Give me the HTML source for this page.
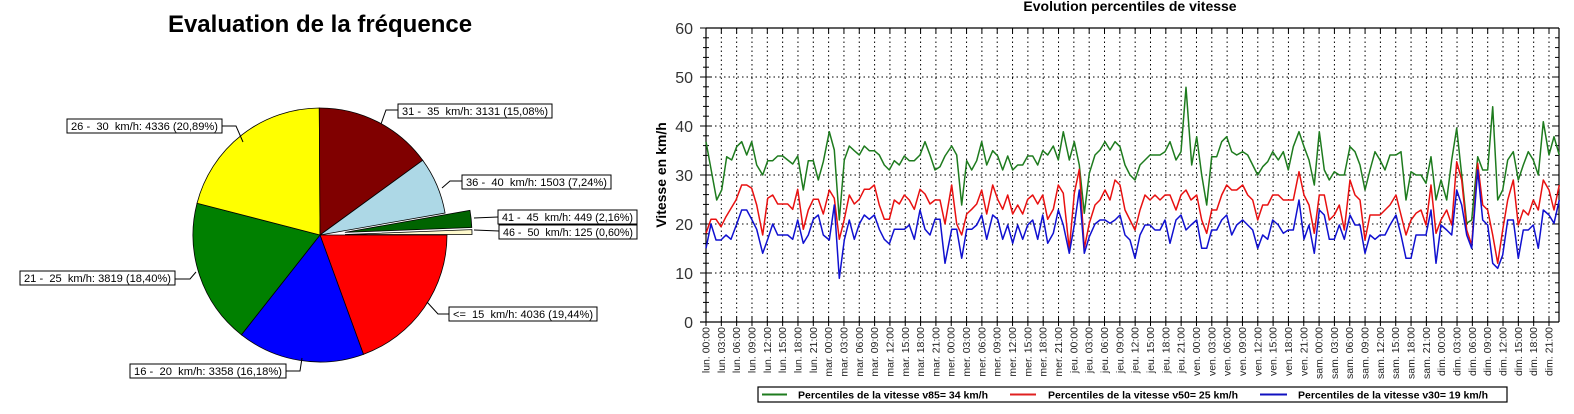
<!DOCTYPE html>
<html><head><meta charset="utf-8"><style>
html,body{margin:0;padding:0;background:#fff;width:1574px;height:414px;overflow:hidden}
svg{display:block}
text{font-family:"Liberation Sans",Arial,sans-serif;white-space:pre}
</style></head><body>
<svg id="s" width="1574" height="414" xmlns="http://www.w3.org/2000/svg" xml:space="preserve">
<rect width="1574" height="414" fill="#fff"/>
<text x="320" y="32" font-size="24" font-weight="bold" text-anchor="middle">Evaluation de la fréquence</text>
<g id="pie" stroke="#000" stroke-width="0.8"></g>
<g id="labels" font-size="11"></g>
<text x="1130" y="11" font-size="14" font-weight="bold" text-anchor="middle">Evolution percentiles de vitesse</text>
<text transform="translate(666,175) rotate(-90)" font-size="14" font-weight="bold" text-anchor="middle">Vitesse en km/h</text>
<g id="chart"></g>
<rect x="758" y="387" width="749" height="15" fill="none" stroke="#000" stroke-width="1.2"/>
<line x1="762" y1="394.5" x2="787" y2="394.5" stroke="#1e7b1e" stroke-width="2"/>
<text x="798" y="398.5" font-size="10.5" font-weight="bold">Percentiles de la vitesse v85= 34 km/h</text>
<line x1="1010" y1="394.5" x2="1036" y2="394.5" stroke="#e02020" stroke-width="2"/>
<text x="1048" y="398.5" font-size="10.5" font-weight="bold">Percentiles de la vitesse v50= 25 km/h</text>
<line x1="1260" y1="394.5" x2="1287" y2="394.5" stroke="#1010c0" stroke-width="2"/>
<text x="1298" y="398.5" font-size="10.5" font-weight="bold">Percentiles de la vitesse v30= 19 km/h</text>
</svg>
<script>
var NS="http://www.w3.org/2000/svg";
function el(p,t,a,txt){var e=document.createElementNS(NS,t);for(var k in a)e.setAttribute(k,a[k]);if(txt!=null)e.textContent=txt;p.appendChild(e);return e;}
var pie=document.getElementById('pie');
var cx=320,cy=235,r=127;
var sl=[[19.44,'#ff0000',0],[16.18,'#0000ff',0],[18.40,'#008000',0],[20.89,'#ffff00',0],[15.08,'#800000',0],[7.24,'#add8e6',0],[2.16,'#006400',25],[0.60,'#fffacd',25]];
var a=0;
sl.forEach(function(s){var a0=a*Math.PI/180;a+=s[0]*3.6;var a1=a*Math.PI/180;var m=(a0+a1)/2;var ox=cx+s[2]*Math.cos(m),oy=cy+s[2]*Math.sin(m);
var x0=ox+r*Math.cos(a0),y0=oy+r*Math.sin(a0),x1=ox+r*Math.cos(a1),y1=oy+r*Math.sin(a1);
el(pie,'path',{d:'M'+ox+','+oy+' L'+x0+','+y0+' A'+r+','+r+' 0 '+((a1-a0)>Math.PI?1:0)+' 1 '+x1+','+y1+' Z',fill:s[1]});});
var lb=document.getElementById('labels');
var L=[["31 -  35  km/h: 3131 (15,08%)",398,104,154,[[398,110],[386,110],[381,124]]],
["26 -  30  km/h: 4336 (20,89%)",67,119,155,[[222,126],[236,126],[243,142]]],
["36 -  40  km/h: 1503 (7,24%)",462,175,149,[[462,181],[450,181],[442,188]]],
["41 -  45  km/h: 449 (2,16%)",498,210,139,[[498,217],[474,218]]],
["46 -  50  km/h: 125 (0,60%)",499,225,138,[[499,231],[474,230]]],
["21 -  25  km/h: 3819 (18,40%)",20,271,155,[[175,279],[190,279],[196,272]]],
["<=  15  km/h: 4036 (19,44%)",449,307,148,[[449,314],[438,314],[427,302]]],
["16 -  20  km/h: 3358 (16,18%)",130,364,156,[[286,371],[300,371],[302,358]]]];
L.forEach(function(l){el(lb,'polyline',{points:l[4].map(function(p){return p.join(',')}).join(' '),fill:'none',stroke:'#000','stroke-width':1});
el(lb,'rect',{x:l[1],y:l[2],width:l[3],height:14,fill:'#fff',stroke:'#000','stroke-width':1});
el(lb,'text',{x:l[1]+4,y:l[2]+11,textLength:l[3]-8,lengthAdjust:'spacingAndGlyphs'},l[0]);});
var c=document.getElementById('chart');
var X0=706,X1=1559,Y0=322,Yt=28,pu=4.9;
function yv(v){return Y0-v*pu;}
var days=['lun.','mar.','mer.','jeu.','ven.','sam.','dim.'];
var sp=(1549-706)/55;
for(var i=0;i<56;i++){var x=X0+i*sp;var hh=(i%8)*3;var lab=days[Math.floor(i/8)]+' '+(hh<10?'0':'')+hh+':00';
if(i>0)el(c,'line',{x1:x,y1:Yt,x2:x,y2:Y0,stroke:'#000','stroke-width':1,'stroke-dasharray':'1.5,3'});
el(c,'line',{x1:x,y1:Y0-5,x2:x,y2:Y0+4,stroke:'#000','stroke-width':1});
el(c,'line',{x1:x,y1:Yt,x2:x,y2:Yt+5,stroke:'#000','stroke-width':1});
el(c,'text',{transform:'translate('+(x+3.5)+',327) rotate(-90)','font-size':'10.5','text-anchor':'end',fill:'#222'},lab);}
for(var v=10;v<=50;v+=10)el(c,'line',{x1:X0,y1:yv(v),x2:X1,y2:yv(v),stroke:'#000','stroke-width':1,'stroke-dasharray':'1.5,3'});
for(var v=0;v<=60;v+=2){var y=yv(v);var maj=v%10==0;
el(c,'line',{x1:maj?700:703,y1:y,x2:maj?712:709,y2:y,stroke:'#000','stroke-width':1});
el(c,'line',{x1:X1-(maj?6:4),y1:y,x2:X1,y2:y,stroke:'#000','stroke-width':1});
if(maj)el(c,'text',{x:693,y:y+6,'font-size':'16','text-anchor':'end',fill:'#333'},String(v));}
el(c,'line',{x1:X0,y1:Yt,x2:X0,y2:Y0,stroke:'#000','stroke-width':1.2});
el(c,'line',{x1:X1,y1:Yt,x2:X1,y2:Y0,stroke:'#000','stroke-width':1.2});
el(c,'line',{x1:X0,y1:Yt,x2:X1,y2:Yt,stroke:'#000','stroke-width':1.2});
el(c,'line',{x1:700,y1:Y0,x2:X1,y2:Y0,stroke:'#000','stroke-width':1.2});
var G5=[198,35,230,210,245,180,260,80,275,90,290,50,305,35,320,75,335,35,350,105,368,135,383,92,398,92,413,78,428,78,443,90,458,102,473,78,490,180,505,92,520,92,535,150,550,95,568,5,583,60,598,270,613,90,628,48,643,62,658,75,673,48,688,62,703,62,718,75,733,105,748,120,763,92,778,105,793,78,808,92,823,92,840,75,855,35,870,75,885,120,900,110,915,78,935,48,950,75,965,225,980,92,995,120,1010,92,1025,35,1040,105,1058,62,1073,78,1088,120,1103,78,1118,120,1133,105,1148,105,1163,78,1178,78,1193,105,1208,62,1223,75,1240,48,1255,90,1270,5,1288,90,1303,35,1318,105,1333,250,1348,130,1365,75];
var R5=[198,310,213,268,228,268,243,290,258,260,288,210,305,165,320,165,335,175,350,225,368,315,383,205,398,195,413,222,428,222,443,222,458,238,473,178,490,298,505,240,520,208,535,208,550,252,568,180,583,205,598,328,613,268,628,195,643,222,658,208,673,178,688,178,703,165,718,225,733,268,748,268,763,210,778,222,793,195,808,210,823,238,840,178,855,192,870,222,885,210,900,210,915,282,935,165,950,282,965,315,980,252,995,238,1010,222,1025,180,1040,252,1058,165,1073,208,1088,238,1103,195,1118,252,1133,225,1148,252,1163,208,1178,195,1193,222,1208,195,1223,268,1240,238,1255,165,1270,190,1288,358,1303,190,1318,118,1333,355,1348,280,1365,225];
var B5=[198,355,213,282,228,330,243,330,258,315,273,328,290,282,305,240,320,240,335,268,350,298,368,370,383,328,398,282,413,315,428,315,443,315,458,328,473,270,490,340,505,315,520,268,535,255,550,315,568,330,583,225,598,445,613,330,628,270,643,328,658,282,673,255,688,268,703,255,718,298,733,328,748,342,763,298,778,298,793,298,808,285,823,328,840,240,855,298,870,315,885,268,900,268,915,400,935,298,950,298,965,385,980,298,995,298,1010,285,1025,255,1040,328,1058,255,1073,268,1088,328,1103,285,1118,340,1133,285,1148,328,1163,285,1178,270,1193,328,1208,255,1223,340,1240,310,1255,240,1270,285,1288,370,1303,285,1318,180,1333,370,1348,320,1365,282];
var G3=[0,450,15,425,30,450,45,425,60,440,75,495,90,525,105,540,120,495,135,480,150,465,165,465,180,465,195,455,210,425,228,480,243,455,258,262,275,495,290,410,305,525,320,615,335,470,350,470,365,425,380,410,395,455,410,465,428,455,443,465,458,495,473,525,488,500,503,485,518,455,535,480,550,455,565,510,580,440,597,395,612,440,627,480,643,555,658,395,673,510,688,540,703,515,718,525,733,525,750,440,765,455,780,495,795,570,810,510,825,455,840,480,855,510,870,465,888,465,903,455,918,600,933,515,948,525,963,525,978,550,993,470,1008,600,1023,540,1040,600,1055,480,1070,385,1085,525,1100,670,1115,660,1133,470,1148,510,1163,510,1178,320,1193,600,1208,570,1223,480,1240,455,1255,540,1270,495,1285,455,1300,480,1315,525,1330,365,1347,465,1362,410,1378,465];
var R3=[0,600,15,570,30,600,45,540,60,555,75,630,90,660,105,690,120,630,135,585,150,600,165,585,180,600,195,585,210,585,228,630,243,585,258,570,273,600,290,585,305,660,320,700,335,630,350,630,365,585,380,555,395,570,410,570,428,555,443,585,458,600,473,660,488,615,503,615,518,585,535,585,550,600,565,600,580,600,597,515,612,585,627,615,643,700,658,585,673,585,688,660,703,645,718,615,733,690,750,540,765,585,780,600,795,720,810,645,825,645,840,645,855,630,870,615,888,585,903,645,918,705,933,660,948,640,963,630,978,675,993,555,1008,700,1023,660,1040,630,1055,675,1070,485,1085,540,1100,690,1115,735,1133,490,1148,615,1163,630,1178,705,1193,790,1208,690,1223,600,1240,540,1255,675,1270,630,1285,645,1300,600,1315,630,1330,540,1347,570,1362,630,1378,555];
var B3=[0,660,15,660,30,670,45,660,60,645,75,705,90,720,105,775,120,705,135,675,150,675,165,690,180,690,195,660,210,730,228,660,243,645,258,690,273,675,290,660,305,745,320,745,335,690,350,690,365,660,380,645,395,705,410,675,428,660,443,675,458,690,473,745,488,705,503,718,518,660,535,675,550,700,565,690,580,690,597,600,612,718,627,675,643,760,658,630,673,645,688,718,703,718,718,675,733,718,750,645,765,675,780,675,795,760,810,705,825,718,840,705,855,705,870,675,888,645,903,705,918,775,933,775,948,705,963,705,978,705,993,630,1008,790,1023,675,1040,690,1055,705,1070,570,1085,615,1100,705,1115,745,1133,510,1148,660,1163,675,1178,790,1193,805,1208,765,1223,660,1240,660,1255,775,1270,690,1285,690,1300,675,1315,745,1330,630,1347,645,1362,670,1378,600];
function pts(a,ox,oy){var o=[];for(var i=0;i<a.length;i+=2)o.push((ox+a[i]/3).toFixed(1)+','+(oy+a[i+1]/3).toFixed(1));return o;}
[[G5,G3,'#1e7b1e'],[R5,R3,'#e81010'],[B5,B3,'#1010d0']].forEach(function(s){
var p=pts(s[0],640,130).concat(pts(s[1],1100,0));
el(c,'polyline',{points:p.join(' '),fill:'none',stroke:s[2],'stroke-width':1.5,'stroke-linejoin':'round'});});
</script>
</body></html>
